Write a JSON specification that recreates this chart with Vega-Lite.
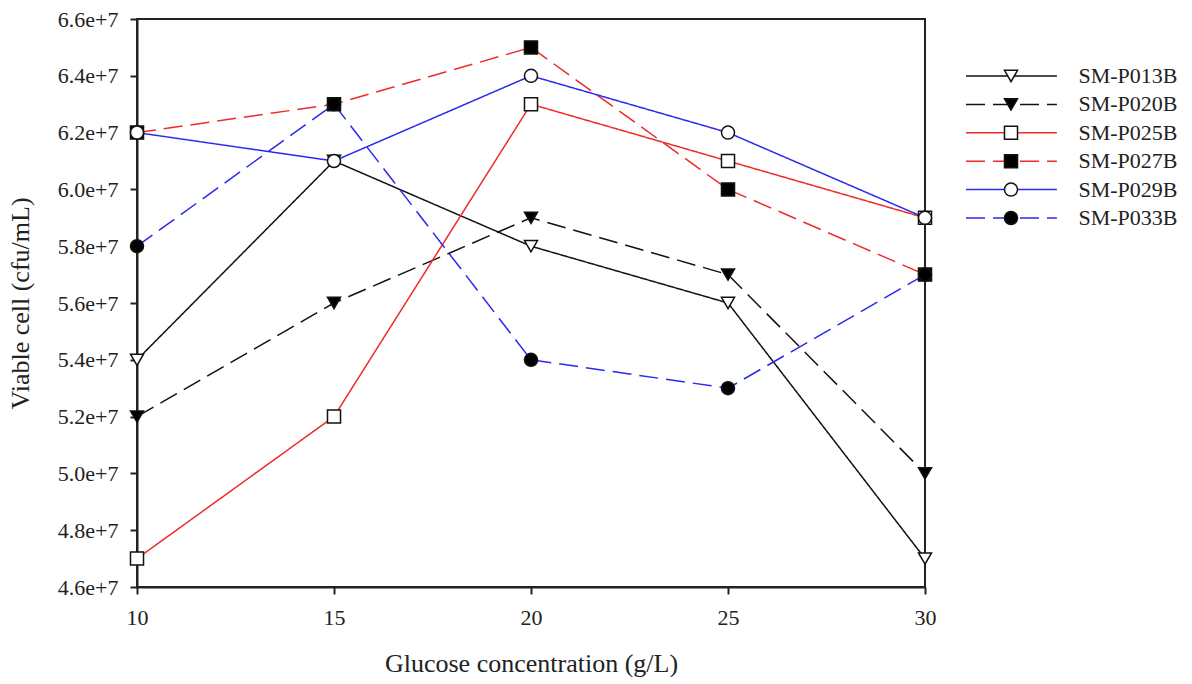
{
  "$schema": "https://vega.github.io/schema/vega-lite/v6.json",
  "background": "white",
  "padding": {"left": 6, "top": 7, "right": 0, "bottom": 0},
  "bounds": "flush",
  "spacing": 41,
  "datasets": {
    "pts": [
      {"g": 10, "series": "SM-P013B", "v": 54000000},
      {"g": 15, "series": "SM-P013B", "v": 61000000},
      {"g": 20, "series": "SM-P013B", "v": 58000000},
      {"g": 25, "series": "SM-P013B", "v": 56000000},
      {"g": 30, "series": "SM-P013B", "v": 47000000},
      {"g": 10, "series": "SM-P020B", "v": 52000000},
      {"g": 15, "series": "SM-P020B", "v": 56000000},
      {"g": 20, "series": "SM-P020B", "v": 59000000},
      {"g": 25, "series": "SM-P020B", "v": 57000000},
      {"g": 30, "series": "SM-P020B", "v": 50000000},
      {"g": 10, "series": "SM-P025B", "v": 47000000},
      {"g": 15, "series": "SM-P025B", "v": 52000000},
      {"g": 20, "series": "SM-P025B", "v": 63000000},
      {"g": 25, "series": "SM-P025B", "v": 61000000},
      {"g": 30, "series": "SM-P025B", "v": 59000000},
      {"g": 10, "series": "SM-P027B", "v": 62000000},
      {"g": 15, "series": "SM-P027B", "v": 63000000},
      {"g": 20, "series": "SM-P027B", "v": 65000000},
      {"g": 25, "series": "SM-P027B", "v": 60000000},
      {"g": 30, "series": "SM-P027B", "v": 57000000},
      {"g": 10, "series": "SM-P029B", "v": 62000000},
      {"g": 15, "series": "SM-P029B", "v": 61000000},
      {"g": 20, "series": "SM-P029B", "v": 64000000},
      {"g": 25, "series": "SM-P029B", "v": 62000000},
      {"g": 30, "series": "SM-P029B", "v": 59000000},
      {"g": 10, "series": "SM-P033B", "v": 58000000},
      {"g": 15, "series": "SM-P033B", "v": 63000000},
      {"g": 20, "series": "SM-P033B", "v": 54000000},
      {"g": 25, "series": "SM-P033B", "v": 53000000},
      {"g": 30, "series": "SM-P033B", "v": 57000000}
    ]
  },
  "config": {
    "font": "Liberation Serif",
    "axis": {
      "labelFont": "Liberation Serif",
      "titleFont": "Liberation Serif",
      "labelFontSize": 22,
      "titleFontSize": 26,
      "titleFontWeight": "normal",
      "labelColor": "#222",
      "titleColor": "#222",
      "domainColor": "#222",
      "domainWidth": 2,
      "tickColor": "#222",
      "tickWidth": 2,
      "tickSize": 7,
      "labelFlush": false,
      "labelOverlap": false,
      "grid": false
    }
  },
  "hconcat": [
    {
      "width": 788,
      "height": 568,
      "data": {"name": "pts"},
      "view": {"stroke": "#222", "strokeWidth": 2},
      "encoding": {
        "x": {
          "field": "g", "type": "quantitative",
          "scale": {"domain": [10, 30], "nice": false, "zero": false},
          "axis": {"values": [10, 15, 20, 25, 30], "title": "Glucose concentration (g/L)", "labelPadding": 13, "titlePadding": 22}
        },
        "y": {
          "field": "v", "type": "quantitative",
          "scale": {"domain": [46000000, 66000000], "nice": false, "zero": false},
          "axis": {
            "values": [46000000, 48000000, 50000000, 52000000, 54000000, 56000000, 58000000, 60000000, 62000000, 64000000, 66000000],
            "labelExpr": "format(datum.value/1e7, '.1f') + 'e+7'",
            "title": "Viable cell (cfu/mL)",
            "labelPadding": 12,
            "titlePadding": 24
          }
        }
      },
      "layer": [
        {
          "mark": {"type": "line", "strokeWidth": 1.5},
          "encoding": {
            "detail": {"field": "series"},
            "color": {
              "field": "series", "type": "nominal", "legend": null,
              "scale": {"domain": ["SM-P013B", "SM-P020B", "SM-P025B", "SM-P027B", "SM-P029B", "SM-P033B"],
                        "range": ["#111111", "#111111", "#ee2a2a", "#ee2a2a", "#2a2aee", "#2a2aee"]}
            },
            "strokeDash": {
              "field": "series", "type": "nominal", "legend": null,
              "scale": {"domain": ["SM-P013B", "SM-P020B", "SM-P025B", "SM-P027B", "SM-P029B", "SM-P033B"],
                        "range": [[1, 0], [19, 8], [1, 0], [19, 8], [1, 0], [19, 8]]}
            }
          }
        },
        {
          "mark": {"type": "point", "filled": false, "stroke": "#111", "strokeWidth": 1.5, "size": 170, "opacity": 1},
          "encoding": {
            "shape": {
              "field": "series", "type": "nominal", "legend": null,
              "scale": {"domain": ["SM-P013B", "SM-P020B", "SM-P025B", "SM-P027B", "SM-P029B", "SM-P033B"],
                        "range": ["triangle-down", "triangle-down", "square", "square", "circle", "circle"]}
            },
            "fill": {
              "field": "series", "type": "nominal", "legend": null,
              "scale": {"domain": ["SM-P013B", "SM-P020B", "SM-P025B", "SM-P027B", "SM-P029B", "SM-P033B"],
                        "range": ["white", "black", "white", "black", "white", "black"]}
            }
          }
        }
      ]
    },
    {
      "width": 225,
      "height": 568,
      "data": {"name": "pts"},
      "transform": [{"filter": "datum.g == 10"}],
      "view": {"stroke": null},
      "encoding": {
        "y": {
          "field": "series", "type": "nominal", "axis": null,
          "scale": {"type": "point", "domain": ["SM-P013B", "SM-P020B", "SM-P025B", "SM-P027B", "SM-P029B", "SM-P033B"], "range": [57, 199], "padding": 0}
        }
      },
      "layer": [
        {
          "mark": {"type": "rule", "strokeWidth": 1.5},
          "encoding": {
            "x": {"datum": 0, "type": "quantitative", "scale": {"domain": [0, 1], "nice": false, "zero": false}, "axis": null},
            "x2": {"datum": 0.404},
            "color": {
              "field": "series", "type": "nominal", "legend": null,
              "scale": {"domain": ["SM-P013B", "SM-P020B", "SM-P025B", "SM-P027B", "SM-P029B", "SM-P033B"],
                        "range": ["#111111", "#111111", "#ee2a2a", "#ee2a2a", "#2a2aee", "#2a2aee"]}
            },
            "strokeDash": {
              "field": "series", "type": "nominal", "legend": null,
              "scale": {"domain": ["SM-P013B", "SM-P020B", "SM-P025B", "SM-P027B", "SM-P029B", "SM-P033B"],
                        "range": [[1, 0], [22, 10], [1, 0], [22, 10], [1, 0], [22, 10]]}
            }
          }
        },
        {
          "mark": {"type": "point", "filled": false, "stroke": "#111", "strokeWidth": 1.5, "size": 170, "opacity": 1},
          "encoding": {
            "x": {"datum": 0.2, "type": "quantitative"},
            "shape": {
              "field": "series", "type": "nominal", "legend": null,
              "scale": {"domain": ["SM-P013B", "SM-P020B", "SM-P025B", "SM-P027B", "SM-P029B", "SM-P033B"],
                        "range": ["triangle-down", "triangle-down", "square", "square", "circle", "circle"]}
            },
            "fill": {
              "field": "series", "type": "nominal", "legend": null,
              "scale": {"domain": ["SM-P013B", "SM-P020B", "SM-P025B", "SM-P027B", "SM-P029B", "SM-P033B"],
                        "range": ["white", "black", "white", "black", "white", "black"]}
            }
          }
        },
        {
          "mark": {"type": "text", "align": "left", "baseline": "middle", "fontSize": 22, "font": "Liberation Serif", "color": "#222"},
          "encoding": {
            "x": {"datum": 0.5, "type": "quantitative"},
            "text": {"field": "series"}
          }
        }
      ]
    }
  ]
}
